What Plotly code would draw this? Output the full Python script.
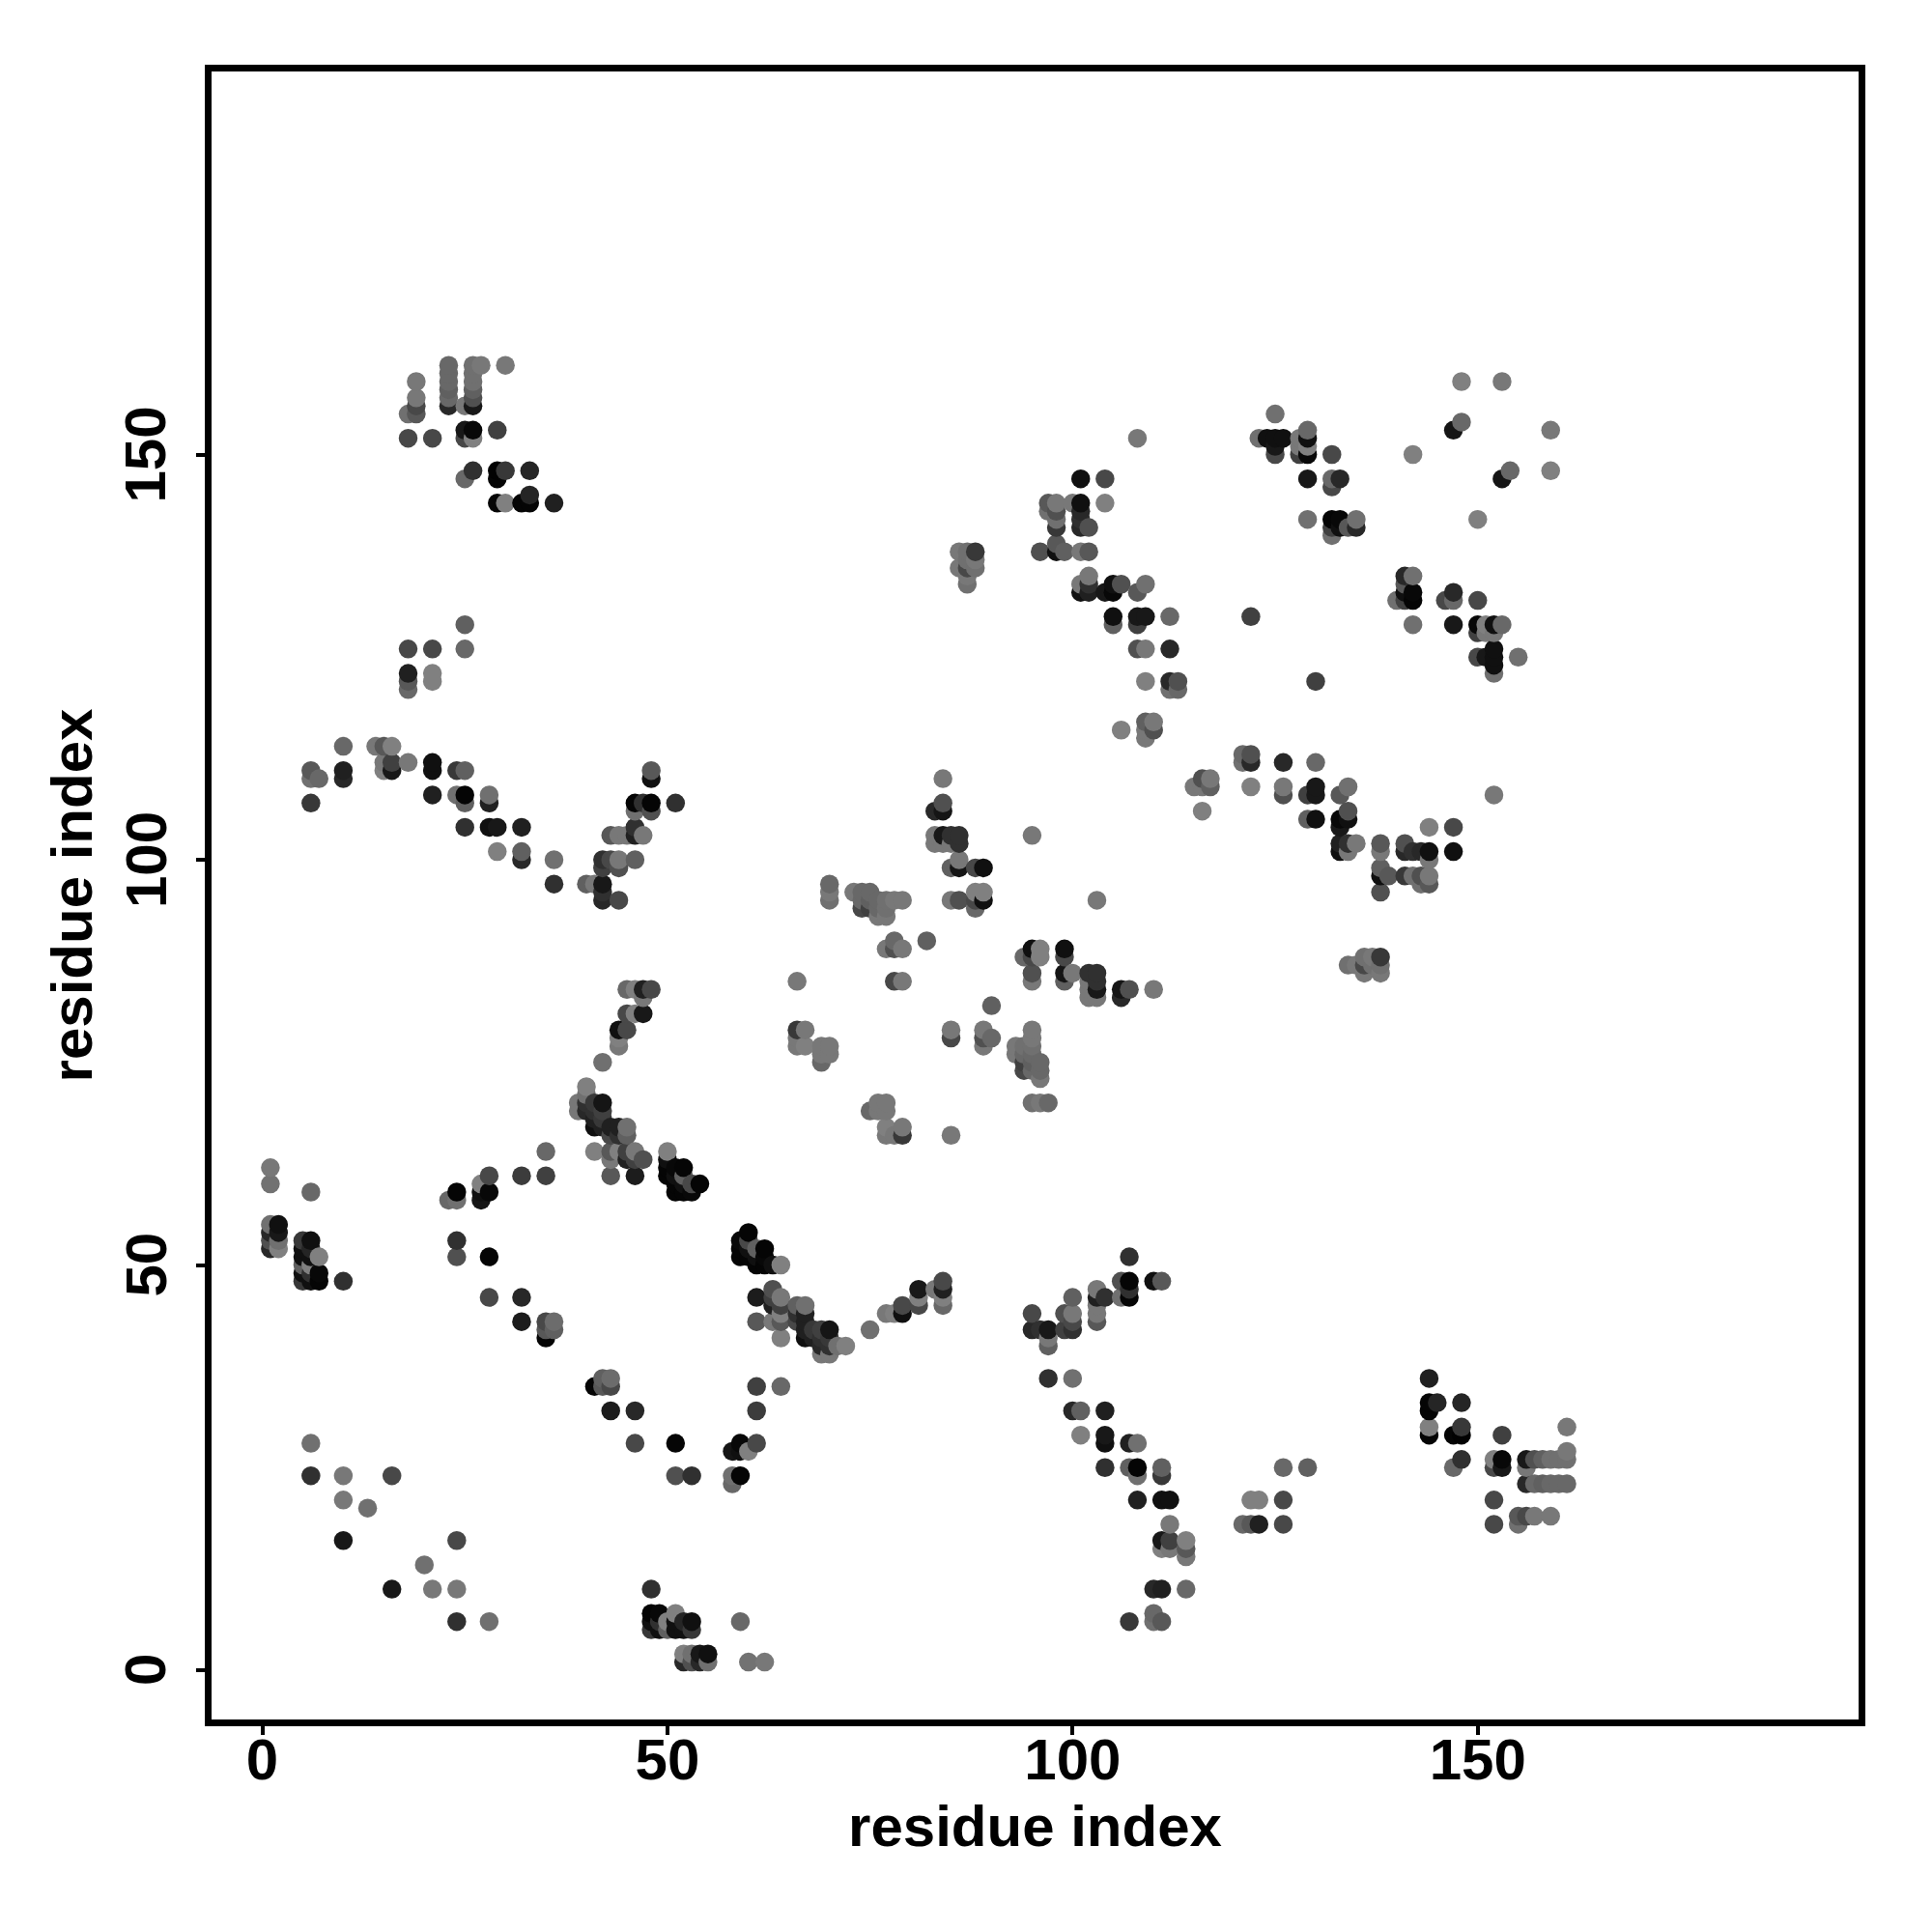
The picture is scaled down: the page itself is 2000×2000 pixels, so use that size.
import plotly.graph_objects as go

tick_vals = [0, 50, 100, 150]
axis_label = "residue index"

res_i = [1, 2, 5, 6, 7, 10, 13, 14, 15, 16, 18, 19, 21, 23, 24, 25, 26, 27, 28, 29, 30, 32, 33, 35, 36,
         39, 40, 41, 42, 43, 44, 45, 46, 47, 48, 50, 51, 52, 53, 54,
         66, 67, 69, 70, 73, 74, 75, 76, 77, 78, 79, 82, 83, 84, 85, 86, 87, 88, 89, 95,
         96, 97, 98, 99, 100, 101, 102, 104, 105, 106, 108, 109, 110, 112, 113, 122, 123, 124, 125, 126,
         128, 129, 132, 133, 134, 135, 142, 147, 148, 153]

partners = [
    [52, 53, 54, 55, 60, 62],
    [52, 53, 54, 55],
    [48, 49, 50, 51, 52, 53],
    [24, 28, 48, 49, 50, 51, 52, 53, 59, 107, 110, 111],
    [48, 49, 51, 110],
    [16, 21, 24, 48, 110, 111, 114],
    [20],
    [114],
    [111, 112, 114],
    [24, 111, 112, 114],
    [112, 121, 122, 123, 126, 152, 155],
    [155, 156, 157, 159],
    [108, 111, 112, 122, 123, 126, 152],
    [58, 156, 157, 158, 159, 160, 161],
    [51, 53, 58, 59, 108, 111],
    [104, 107, 108, 111, 126, 129, 147, 152, 153, 156],
    [148, 152, 153, 156, 157, 158, 159, 160, 161],
    [58, 59, 60, 161],
    [46, 51, 59, 61, 104, 107, 108],
    [101, 104, 144, 147, 148, 153],
    [144, 148, 161],
    [43, 46, 61, 100, 101, 104, 144],
    [144, 145, 148],
    [41, 42, 43, 61, 64],
    [42, 43, 97, 100, 144],
    [69, 70],
    [69, 70, 71, 72, 97],
    [64, 67, 68, 69, 70, 97],
    [67, 68, 69, 70, 75, 95, 96, 97, 99, 100],
    [61, 63, 64, 66, 67, 100, 103],
    [64, 66, 67, 77, 78, 79, 95, 99, 100, 103],
    [63, 64, 66, 67, 79, 81, 84, 103],
    [61, 63, 64, 81, 84, 100, 103, 104, 106, 107],
    [63, 81, 83, 84, 103, 107],
    [84, 106, 107, 110, 111],
    [61, 62, 63, 64],
    [59, 60, 61, 62, 107],
    [59, 60, 61, 62],
    [59, 60],
    [60],
    [77, 78, 79, 85],
    [77, 79],
    [75, 76, 77],
    [76, 77, 95, 96, 97],
    [96],
    [94, 95, 96],
    [94, 95, 96],
    [93, 94, 95],
    [89, 93, 94, 95],
    [85, 89, 90, 95],
    [85, 89, 95],
    [90],
    [102, 103, 106],
    [102, 103, 106, 107, 110],
    [95, 99, 102, 103],
    [95, 99, 100, 102, 103, 136, 138],
    [134, 135, 136, 137, 138],
    [94, 95, 96, 99, 136, 137, 138],
    [95, 96, 99],
    [103],
    [138],
    [143, 144],
    [138, 139, 141, 142, 143, 144],
    [138],
    [144],
    [133, 134, 138, 141, 142, 143, 144, 147],
    [133, 134, 135, 138, 141],
    [133, 144, 147],
    [129, 130, 133, 134],
    [116, 134],
    [126, 129, 130, 133, 152],
    [115, 116, 117, 122, 126, 130, 134],
    [116, 117],
    [121, 122, 126, 130],
    [121, 122],
    [130],
    [152],
    [152],
    [150, 151, 152, 155],
    [152],
    [150, 151, 152],
    [142, 147, 150, 151, 152, 153],
    [140, 141, 142, 146, 147, 150],
    [141, 142, 147],
    [141],
    [141, 142],
    [150],
    [153],
    [154, 159],
    [159],
]

shades = [
    [0x28, 0x50, 0x28, 0x70, 0x72, 0x78],
    [0x80, 0x70, 0x18, 0x10],
    [0x38, 0x10, 0x60, 0x10, 0x10, 0x38],
    [0x30, 0x70, 0x10, 0x30, 0x80, 0x10, 0x25, 0x10, 0x68, 0x38, 0x70, 0x58],
    [0x05, 0x08, 0x80, 0x68],
    [0x18, 0x78, 0x78, 0x30, 0x28, 0x20, 0x68],
    [0x70],
    [0x78],
    [0x80, 0x78, 0x58],
    [0x48, 0x18, 0x40, 0x80],
    [0x78, 0x68, 0x58, 0x20, 0x48, 0x48, 0x70],
    [0x58, 0x48, 0x78, 0x78],
    [0x20, 0x10, 0x10, 0x80, 0x80, 0x48, 0x48],
    [0x68, 0x28, 0x68, 0x60, 0x68, 0x68, 0x68],
    [0x50, 0x30, 0x70, 0x05, 0x70, 0x38],
    [0x30, 0x60, 0x05, 0x60, 0x68, 0x60, 0x68, 0x48, 0x18, 0x78],
    [0x30, 0x80, 0x08, 0x18, 0x50, 0x60, 0x70, 0x70, 0x70],
    [0x15, 0x10, 0x80, 0x78],
    [0x48, 0x05, 0x08, 0x48, 0x10, 0x20, 0x70],
    [0x80, 0x18, 0x05, 0x05, 0x02, 0x40],
    [0x80, 0x38, 0x78],
    [0x1c, 0x28, 0x3c, 0x28, 0x60, 0x20, 0x05],
    [0x05, 0x25, 0x25],
    [0x05, 0x58, 0x48, 0x40, 0x68],
    [0x60, 0x6c, 0x30, 0x70, 0x20],
    [0x78, 0x78],
    [0x28, 0x30, 0x70, 0x80, 0x60],
    [0x80, 0x10, 0x20, 0x30, 0x38, 0x78],
    [0x20, 0x38, 0x40, 0x15, 0x70, 0x28, 0x30, 0x18, 0x40, 0x30],
    [0x58, 0x78, 0x58, 0x48, 0x20, 0x48, 0x58],
    [0x80, 0x30, 0x20, 0x78, 0x80, 0x10, 0x48, 0x50, 0x78, 0x78],
    [0x20, 0x40, 0x60, 0x70, 0x48, 0x48, 0x68, 0x78],
    [0x1c, 0x40, 0x78, 0x80, 0x80, 0x60, 0x20, 0x30, 0x70, 0x05],
    [0x50, 0x18, 0x78, 0x20, 0x78, 0x30],
    [0x48, 0x50, 0x05, 0x10, 0x58],
    [0x05, 0x05, 0x10, 0x80],
    [0x05, 0x05, 0x10, 0x08, 0x30],
    [0x05, 0x10, 0x60, 0x05],
    [0x08, 0x48],
    [0x05],
    [0x78, 0x78, 0x38, 0x78],
    [0x80, 0x78],
    [0x68, 0x78, 0x78],
    [0x78, 0x78, 0x70, 0x78, 0x68],
    [0x78],
    [0x48, 0x68, 0x68],
    [0x40, 0x60, 0x68],
    [0x78, 0x68, 0x68],
    [0x78, 0x78, 0x70, 0x70],
    [0x48, 0x50, 0x68, 0x78],
    [0x78, 0x78, 0x78],
    [0x60],
    [0x78, 0x78, 0x28],
    [0x78, 0x18, 0x15, 0x50, 0x78],
    [0x78, 0x60, 0x78, 0x30],
    [0x50, 0x15, 0x78, 0x30, 0x30, 0x78, 0x78],
    [0x70, 0x78, 0x48, 0x70, 0x70],
    [0x68, 0x48, 0x80, 0x48, 0x70, 0x78, 0x38],
    [0x10, 0x80, 0x10],
    [0x78],
    [0x50],
    [0x70, 0x58],
    [0x10, 0x58, 0x38, 0x70, 0x50, 0x78],
    [0x60],
    [0x78],
    [0x10, 0x78, 0x78, 0x28, 0x30, 0x28, 0x10, 0x10],
    [0x20, 0x30, 0x78, 0x58, 0x50],
    [0x18, 0x80, 0x48],
    [0x60, 0x10, 0x08, 0x10],
    [0x80, 0x50],
    [0x50, 0x40, 0x18, 0x58, 0x78],
    [0x78, 0x78, 0x60, 0x80, 0x78, 0x18, 0x70],
    [0x50, 0x78],
    [0x70, 0x28, 0x28, 0x68],
    [0x68, 0x50],
    [0x40],
    [0x70],
    [0x10],
    [0x48, 0x18, 0x10, 0x70],
    [0x10],
    [0x40, 0x78, 0x78],
    [0x70, 0x18, 0x08, 0x80, 0x10, 0x68],
    [0x70, 0x40, 0x05, 0x48, 0x68, 0x48],
    [0x10, 0x08, 0x28],
    [0x58],
    [0x28, 0x70],
    [0x80],
    [0x15],
    [0x68, 0x80],
    [0x78],
]

points = {}
for i, js, gs in zip(res_i, partners, shades, strict=True):
    for j, g in zip(js, gs, strict=True):
        points[(i, j)] = g
        points[(j, i)] = g

ordered = sorted(points)
xs = [p[0] for p in ordered]
ys = [p[1] for p in ordered]
cols = [f"rgb({points[p]},{points[p]},{points[p]})" for p in ordered]

fig = go.Figure(go.Scatter(x=xs, y=ys, mode="markers",
                           marker=dict(size=19.5, color=cols, line=dict(width=0)),
                           cliponaxis=False, hoverinfo="skip"))

font = dict(family="Liberation Sans", size=60, color="black", weight="bold")
axis = dict(tickmode="array", tickvals=tick_vals, ticks="outside", ticklen=9, tickwidth=4,
            tickcolor="black", showline=True, linecolor="black", linewidth=6.5, mirror=True,
            showgrid=False, zeroline=False, tickfont=font, automargin=False)

fig.update_layout(
    width=2000, height=2000, autosize=False, showlegend=False,
    paper_bgcolor="white", plot_bgcolor="white",
    margin=dict(l=218.5, r=76, t=74, b=220, pad=0),
    xaxis=dict(axis, range=[-6.26, 197.0], ticklabelstandoff=-26,
               title=dict(text=axis_label, font=font, standoff=18)),
    yaxis=dict(axis, range=[-6.08, 197.26], showticklabels=False,
               title=dict(text=axis_label, font=font, standoff=91)),
    annotations=[dict(text=str(v), x=0, xref="paper", y=v, yref="y", xanchor="center", yanchor="middle",
                      xshift=-68, textangle=-90, showarrow=False, font=font) for v in tick_vals],
)
fig.write_html("out.html", config=dict(displayModeBar=False),
               post_script="document.body.style.margin='0';")
